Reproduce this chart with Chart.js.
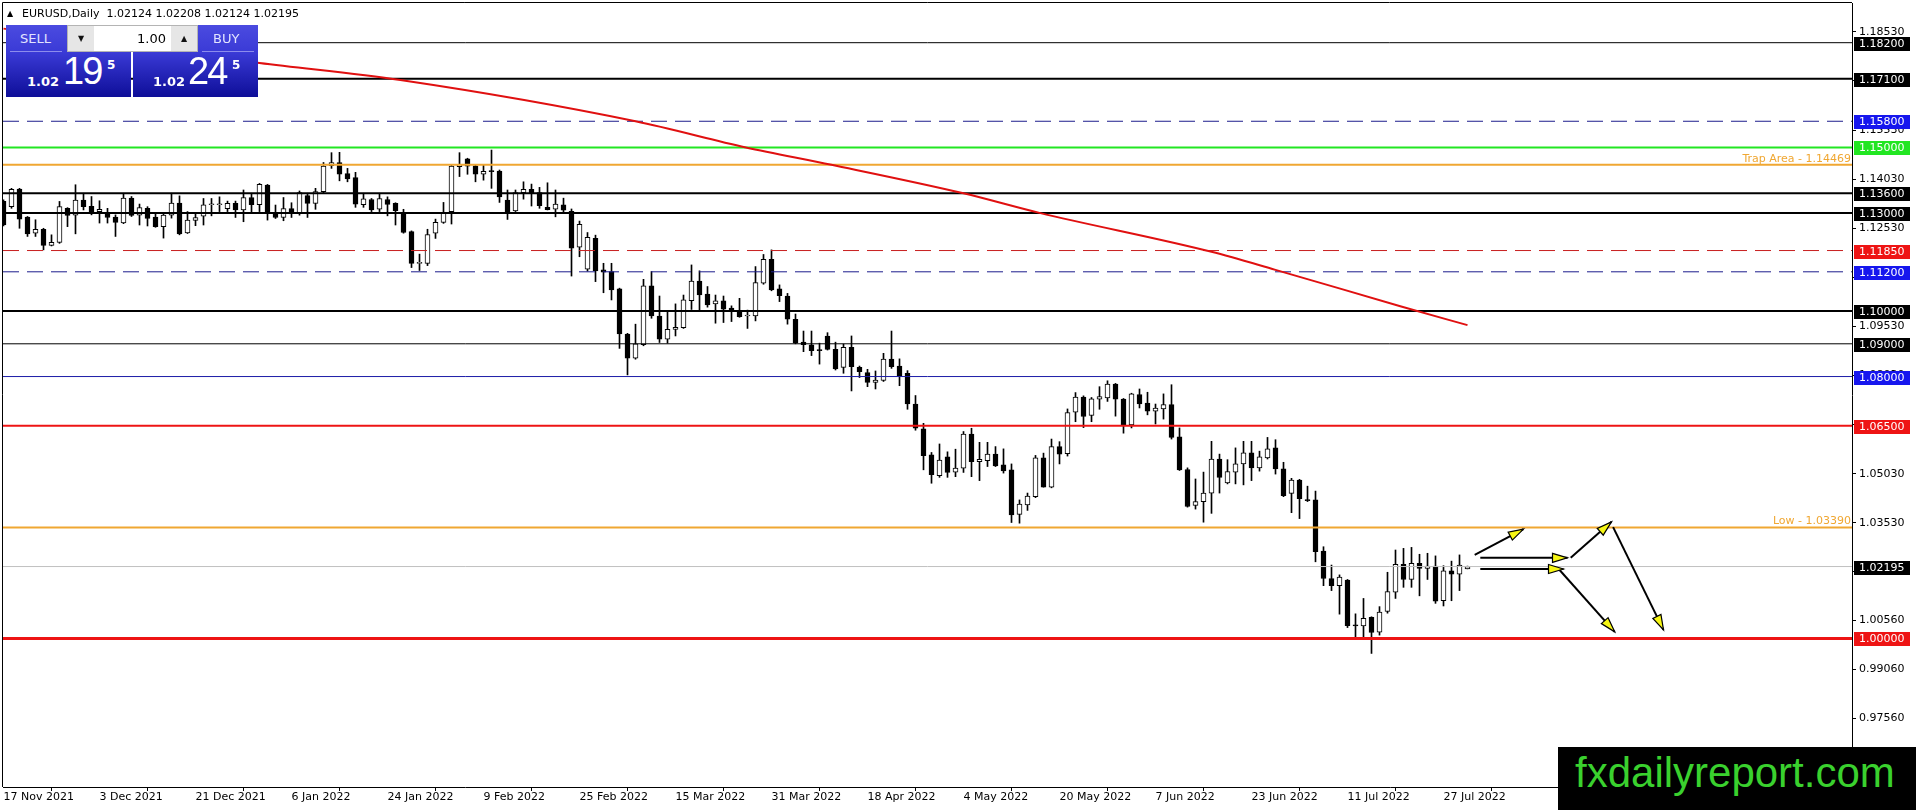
<!DOCTYPE html>
<html lang="en">
<head>
  <meta charset="UTF-8" />
  <title>EURUSD,Daily</title>
  <script src="https://cdn.jsdelivr.net/npm/chart.js"></script>
  <style>
    html, body { margin: 0; padding: 0; background: #fff; overflow: hidden; }
    #wrap { position: relative; width: 1916px; height: 810px; }
    #wrap canvas { position: absolute; left: 0; top: 0; }
    .pbox { position: absolute; top: 25px; height: 72px; width: 125px;
            background: linear-gradient(to bottom, #4b4be0 0%, #3a3ad6 38%, #0e0e98 100%); }
    .pbox .sep { position: absolute; top: 26px; height: 1px; width: 52px; background: #8c8cec; }
    .pbox .act { position: absolute; top: 6px; font: 13px "DejaVu Sans", sans-serif; color: #e2e4ff; }
    .pbox .small { position: absolute; top: 49px; font: bold 13px "DejaVu Sans", sans-serif; color: #fff; }
    .pbox .big { position: absolute; top: 25px; font: 38px "Liberation Sans", sans-serif; color: #fff; letter-spacing: -2px; line-height: 42px; }
    .pbox .sup { position: absolute; top: 33px; font: bold 12px "DejaVu Sans", sans-serif; color: #fff; }
    .lots { position: absolute; left: 67px; top: 25px; width: 129px; height: 25px; border: 1px solid #b4b4b4; background: #fff; }
    .lots .btn { position: absolute; top: 0; width: 26px; height: 25px; background: #e6e6e6; font: 8px "DejaVu Sans", sans-serif; text-align: center; line-height: 25px; color: #111; }
    .lots .val { position: absolute; left: 26px; width: 72px; top: 0; height: 25px; font: 13px "DejaVu Sans", sans-serif; text-align: right; line-height: 25px; color: #000; }
    .mark { position: absolute; left: 1558px; top: 747px; width: 358px; height: 63px; background: #000; }
    .mark span { position: absolute; left: 17px; top: 5px; font: 42px "Liberation Sans", sans-serif; line-height: 42px; color: #3ad12e; }
  </style>
</head>
<body>
<div id="wrap">
  <canvas id="eurusd" width="1916" height="810"></canvas>

  <!-- one click trading panel -->
  <div class="pbox" style="left:6px;">
    <div class="act" style="left:14px;">SELL</div>
    <div class="sep" style="left:4px;"></div>
    <div class="small" style="left:21px;">1.02</div>
    <div class="big" style="left:57px;">19</div>
    <div class="sup" style="left:101px;">5</div>
  </div>
  <div class="pbox" style="left:133px;">
    <div class="act" style="left:80px;">BUY</div>
    <div class="sep" style="left:69px;"></div>
    <div class="small" style="left:20px;">1.02</div>
    <div class="big" style="left:55px;">24</div>
    <div class="sup" style="left:99px;">5</div>
  </div>
  <div class="lots">
    <div class="btn" style="left:0;">▼</div>
    <div class="val">1.00</div>
    <div class="btn" style="left:103px;">▲</div>
  </div>

  <div class="mark"><span>fxdailyreport.com</span></div>
</div>

<script>
  const symbolTitle = 'EURUSD,Daily  1.02124 1.02208 1.02124 1.02195';

  // date labels, one every 12 daily bars starting with bar 0
  const dateLabels = ['17 Nov 2021', '3 Dec 2021', '21 Dec 2021', '6 Jan 2022', '24 Jan 2022', '9 Feb 2022',
    '25 Feb 2022', '15 Mar 2022', '31 Mar 2022', '18 Apr 2022', '4 May 2022', '20 May 2022',
    '7 Jun 2022', '23 Jun 2022', '11 Jul 2022', '27 Jul 2022'];
  const dateStep = 12;

  // daily OHLC, bar 0 = 17 Nov 2021
  const opens = [
    1.1335, 1.1319, 1.1373, 1.1287, 1.1238, 1.1250, 1.1201, 1.1210, 1.1314, 1.1293,
    1.1339, 1.1320, 1.1304, 1.1301, 1.1287, 1.1269, 1.1345, 1.1293, 1.1314, 1.1287,
    1.1258, 1.1293, 1.1330, 1.1239, 1.1277, 1.1290, 1.1325, 1.1325, 1.1313, 1.1329,
    1.1309, 1.1347, 1.1325, 1.1385, 1.1299, 1.1286, 1.1313, 1.1301, 1.1353, 1.1329,
    1.1365, 1.1444, 1.1454, 1.1420, 1.1408, 1.1325, 1.1341, 1.1311, 1.1341, 1.1329,
    1.1302, 1.1243, 1.1146, 1.1146, 1.1238, 1.1271, 1.1304, 1.1441, 1.1465, 1.1444,
    1.1418, 1.1427, 1.1428, 1.1339, 1.1306, 1.1362, 1.1372, 1.1362, 1.1317, 1.1311,
    1.1325, 1.1305, 1.1195, 1.1128, 1.1222, 1.1126, 1.1121, 1.1068, 1.0930, 1.0856,
    1.0897, 1.1077, 1.0985, 1.0914, 1.0944, 1.0949, 1.1032, 1.1092, 1.1052, 1.1022,
    1.1031, 1.1009, 1.1000, 1.0985, 1.0985, 1.1085, 1.1158, 1.1068, 1.1046, 1.0975,
    1.0905, 1.0897, 1.0880, 1.0924, 1.0883, 1.0828, 1.0889, 1.0828, 1.0812, 1.0782,
    1.0788, 1.0853, 1.0832, 1.0810, 1.0716, 1.0640, 1.0561, 1.0497, 1.0555, 1.0508,
    1.0520, 1.0624, 1.0540, 1.0543, 1.0563, 1.0530, 1.0515, 1.0379, 1.0408, 1.0433,
    1.0552, 1.0462, 1.0586, 1.0564, 1.0691, 1.0737, 1.0681, 1.0731, 1.0735, 1.0777,
    1.0731, 1.0652, 1.0745, 1.0719, 1.0694, 1.0701, 1.0714, 1.0616, 1.0516, 1.0406,
    1.0418, 1.0444, 1.0548, 1.0475, 1.0508, 1.0533, 1.0567, 1.0521, 1.0551, 1.0582,
    1.0518, 1.0443, 1.0484, 1.0423, 1.0423, 1.0267, 1.0183, 1.0161, 1.0178, 1.0039,
    1.0038, 1.0064, 1.0019, 1.0082, 1.0141, 1.0226, 1.0180, 1.0229, 1.0214, 1.0221,
    1.0115, 1.0206, 1.0196, 1.02124];
  const highs = [
    1.1340, 1.1375, 1.1375, 1.1289, 1.1279, 1.1253, 1.1233, 1.1335, 1.1316, 1.1386,
    1.1360, 1.1350, 1.1337, 1.1314, 1.1294, 1.1360, 1.1350, 1.1327, 1.1319, 1.1299,
    1.1299, 1.1360, 1.1352, 1.1304, 1.1301, 1.1344, 1.1344, 1.1349, 1.1336, 1.1336,
    1.1370, 1.1360, 1.1390, 1.1387, 1.1324, 1.1347, 1.1331, 1.1367, 1.1360, 1.1375,
    1.1454, 1.1484, 1.1485, 1.1436, 1.1424, 1.1360, 1.1344, 1.1360, 1.1349, 1.1331,
    1.1311, 1.1245, 1.1174, 1.1250, 1.1281, 1.1332, 1.1446, 1.1484, 1.1467, 1.1446,
    1.1446, 1.1492, 1.1431, 1.1370, 1.1370, 1.1395, 1.1388, 1.1378, 1.1392, 1.1370,
    1.1345, 1.1312, 1.1275, 1.1240, 1.1232, 1.1146, 1.1146, 1.1070, 1.0932, 1.0960,
    1.1097, 1.1121, 1.1046, 1.0998, 1.1022, 1.1049, 1.1141, 1.1123, 1.1075, 1.1049,
    1.1046, 1.1016, 1.1039, 1.1003, 1.1136, 1.1173, 1.1187, 1.1080, 1.1054, 1.0991,
    1.0939, 1.0939, 1.0902, 1.0934, 1.0905, 1.0899, 1.0924, 1.0832, 1.0822, 1.0817,
    1.0871, 1.0939, 1.0854, 1.0818, 1.0742, 1.0657, 1.0568, 1.0594, 1.0570, 1.0578,
    1.0632, 1.0642, 1.0599, 1.0599, 1.0586, 1.0579, 1.0533, 1.0423, 1.0444, 1.0559,
    1.0566, 1.0609, 1.0601, 1.0701, 1.0751, 1.0741, 1.0736, 1.0769, 1.0787, 1.0779,
    1.0733, 1.0749, 1.0762, 1.0752, 1.0716, 1.0747, 1.0775, 1.0643, 1.0521, 1.0487,
    1.0508, 1.0602, 1.0563, 1.0546, 1.0582, 1.0602, 1.0602, 1.0572, 1.0614, 1.0607,
    1.0538, 1.0489, 1.0486, 1.0465, 1.0450, 1.0280, 1.0224, 1.0194, 1.0180, 1.0075,
    1.0122, 1.0066, 1.0097, 1.0202, 1.0270, 1.0275, 1.0278, 1.0257, 1.0260, 1.0252,
    1.0222, 1.0236, 1.0255, 1.02208];
  const lows = [
    1.1260, 1.1314, 1.1253, 1.1228, 1.1228, 1.1187, 1.1199, 1.1207, 1.1258, 1.1236,
    1.1309, 1.1294, 1.1269, 1.1269, 1.1228, 1.1267, 1.1289, 1.1263, 1.1260, 1.1256,
    1.1223, 1.1284, 1.1233, 1.1237, 1.1261, 1.1263, 1.1291, 1.1304, 1.1304, 1.1286,
    1.1273, 1.1299, 1.1304, 1.1278, 1.1283, 1.1276, 1.1286, 1.1293, 1.1286, 1.1311,
    1.1360, 1.1436, 1.1398, 1.1395, 1.1317, 1.1317, 1.1304, 1.1304, 1.1291, 1.1263,
    1.1238, 1.1133, 1.1124, 1.1139, 1.1222, 1.1268, 1.1266, 1.1411, 1.1418, 1.1395,
    1.1400, 1.1375, 1.1332, 1.1280, 1.1304, 1.1342, 1.1321, 1.1314, 1.1309, 1.1288,
    1.1300, 1.1107, 1.1166, 1.1122, 1.1090, 1.1056, 1.1034, 1.0886, 1.0805, 1.0853,
    1.0894, 1.0978, 1.0904, 1.0902, 1.0924, 1.0947, 1.1005, 1.1003, 1.1012, 1.0963,
    1.0965, 1.0968, 1.0981, 1.0947, 1.0970, 1.1082, 1.1062, 1.1029, 1.0960, 1.0900,
    1.0876, 1.0864, 1.0838, 1.0881, 1.0820, 1.0810, 1.0756, 1.0797, 1.0769, 1.0762,
    1.0785, 1.0825, 1.0772, 1.0700, 1.0636, 1.0515, 1.0474, 1.0492, 1.0492, 1.0494,
    1.0507, 1.0494, 1.0482, 1.0525, 1.0525, 1.0505, 1.0354, 1.0352, 1.0391, 1.0430,
    1.0462, 1.0460, 1.0533, 1.0557, 1.0662, 1.0644, 1.0662, 1.0700, 1.0724, 1.0679,
    1.0627, 1.0643, 1.0704, 1.0683, 1.0655, 1.0670, 1.0609, 1.0513, 1.0401, 1.0395,
    1.0355, 1.0382, 1.0444, 1.0472, 1.0472, 1.0469, 1.0482, 1.0511, 1.0548, 1.0502,
    1.0433, 1.0384, 1.0366, 1.0418, 1.0234, 1.0161, 1.0146, 1.0074, 1.0033, 1.0000,
    1.0005, 0.9954, 1.0010, 1.0077, 1.0122, 1.0156, 1.0156, 1.0130, 1.0180, 1.0107,
    1.0099, 1.0115, 1.0146, 1.02124];
  const closes = [
    1.1263, 1.1372, 1.1281, 1.1236, 1.1250, 1.1201, 1.1210, 1.1319, 1.1292, 1.1339,
    1.1319, 1.1304, 1.1311, 1.1286, 1.1271, 1.1345, 1.1292, 1.1316, 1.1283, 1.1258,
    1.1293, 1.1330, 1.1236, 1.1278, 1.1286, 1.1325, 1.1326, 1.1327, 1.1329, 1.1309,
    1.1347, 1.1325, 1.1387, 1.1299, 1.1286, 1.1313, 1.1299, 1.1362, 1.1329, 1.1365,
    1.1443, 1.1454, 1.1418, 1.1404, 1.1327, 1.1343, 1.1309, 1.1344, 1.1326, 1.1307,
    1.1240, 1.1146, 1.1148, 1.1234, 1.1271, 1.1302, 1.1443, 1.1448, 1.1443, 1.1418,
    1.1427, 1.1426, 1.1349, 1.1304, 1.1362, 1.1372, 1.1362, 1.1322, 1.1310, 1.1327,
    1.1308, 1.1192, 1.1265, 1.1225, 1.1123, 1.1119, 1.1065, 1.0930, 1.0856, 1.0900,
    1.1077, 1.0985, 1.0914, 1.0944, 1.0950, 1.1034, 1.1092, 1.1049, 1.1019, 1.1031,
    1.1006, 1.1001, 1.0983, 1.0986, 1.1087, 1.1158, 1.1065, 1.1047, 1.0975, 1.0902,
    1.0897, 1.0879, 1.0879, 1.0883, 1.0823, 1.0889, 1.0830, 1.0815, 1.0782, 1.0789,
    1.0853, 1.0830, 1.0803, 1.0716, 1.0642, 1.0558, 1.0500, 1.0545, 1.0507, 1.0520,
    1.0624, 1.0540, 1.0547, 1.0563, 1.0527, 1.0512, 1.0377, 1.0410, 1.0435, 1.0552,
    1.0462, 1.0586, 1.0563, 1.0690, 1.0737, 1.0678, 1.0732, 1.0739, 1.0777, 1.0731,
    1.0652, 1.0747, 1.0716, 1.0694, 1.0704, 1.0714, 1.0614, 1.0515, 1.0403, 1.0418,
    1.0444, 1.0548, 1.0492, 1.0510, 1.0533, 1.0567, 1.0521, 1.0555, 1.0579, 1.0518,
    1.0436, 1.0484, 1.0427, 1.0421, 1.0265, 1.0183, 1.0161, 1.0187, 1.0039, 1.0038,
    1.0061, 1.0018, 1.0080, 1.0143, 1.0226, 1.0180, 1.0229, 1.0214, 1.0221, 1.0114,
    1.0206, 1.0196, 1.0224, 1.02195];

  // moving average (bar index -> price)
  const maBars = [0, 32, 49.6, 79, 92.8, 103.5, 120, 129.5, 151, 159, 174.6, 183];
  const maValues = [1.1863, 1.1758, 1.1706, 1.1580, 1.1500, 1.1447, 1.1360, 1.1300, 1.1181, 1.1126, 1.1015, 1.0957];

  // price scale labels
  const priceTicks = [1.1853, 1.1703, 1.1553, 1.1403, 1.1253, 1.1103, 1.0953, 1.0803, 1.0653,
    1.0503, 1.0353, 1.0203, 1.0056, 0.9906, 0.9756];

  // horizontal levels
  const levels = [1.182, 1.171, 1.158, 1.15, 1.14469, 1.136, 1.13, 1.1185, 1.112,
    1.10, 1.09, 1.08, 1.065, 1.0339, 1.02195, 1.0];
  const levelNotes = [null, null, null, null, 'Trap Area - 1.14469', null, null, null, null,
    null, null, null, null, 'Low - 1.03390', null, null];

  // scenario arrows (bar index, price)
  const arrowFrom = [[183.9, 1.0255], [184.6, 1.0246], [195.9, 1.0246], [201.2, 1.0340], [184.6, 1.0212], [194.4, 1.0212]];
  const arrowTo   = [[190.0, 1.0334], [195.5, 1.0246], [201.0, 1.0356], [207.5, 1.0026], [195.0, 1.0212], [201.4, 1.0020]];

  // ---- styles for the levels ----
  const BLUE = '#1616ee', RED = '#ee1414', BLK = '#000', ORG = '#f0a732';
  const levelStyle = [
    { c: BLK, w: 1, box: BLK },
    { c: BLK, w: 2, box: BLK },
    { c: '#1c1c8c', w: 1, dash: true, box: BLUE },
    { c: '#22e622', w: 2, box: '#22e622' },
    { c: ORG, w: 2 },
    { c: BLK, w: 2, box: BLK },
    { c: BLK, w: 2, box: BLK },
    { c: '#c81e1e', w: 1, dash: true, box: RED },
    { c: '#1c1c8c', w: 1, dash: true, box: BLUE },
    { c: BLK, w: 2, box: BLK },
    { c: BLK, w: 1, box: BLK },
    { c: '#1c1ca8', w: 1, box: BLUE },
    { c: RED, w: 2, box: RED },
    { c: ORG, w: 2 },
    { c: '#c0c0c0', w: 1, box: BLK },
    { c: RED, w: 3, box: RED }
  ];

  const barPx = 8;
  const xMin = -0.0625;
  const xMax = xMin + 1849 / barPx;

  const datasets = [];

  // arrows
  arrowFrom.forEach((a, i) => {
    datasets.push({
      type: 'line', order: 0,
      data: [{ x: a[0], y: a[1] }, { x: arrowTo[i][0], y: arrowTo[i][1] }],
      borderColor: '#000', borderWidth: 2, pointRadius: 0
    });
  });

  // moving average
  datasets.push({
    type: 'line', order: 1,
    data: maBars.map((b, i) => ({ x: b, y: maValues[i] })),
    borderColor: '#e01010', borderWidth: 2, pointRadius: 0,
    cubicInterpolationMode: 'monotone'
  });

  // level lines
  levels.forEach((v, i) => {
    const s = levelStyle[i];
    datasets.push({
      type: 'line', order: 2,
      data: [{ x: xMin, y: v }, { x: xMax, y: v }],
      borderColor: s.c, borderWidth: s.w, borderDash: s.dash ? [16, 8] : [],
      pointRadius: 0
    });
  });

  // candle bodies
  datasets.push({
    type: 'bar', order: 3,
    data: opens.map((o, i) => ({ x: i, y: [o, closes[i]] })),
    backgroundColor: opens.map((o, i) => closes[i] > o ? '#fff' : '#000'),
    borderColor: '#000', borderWidth: 1, borderSkipped: false,
    barThickness: 5, minBarLength: 1, grouped: false
  });

  // candle wicks
  datasets.push({
    type: 'bar', order: 4,
    data: highs.map((h, i) => ({ x: i, y: [lows[i], h] })),
    backgroundColor: '#000', borderWidth: 0,
    barThickness: 1, grouped: false
  });

  const frame = {
    id: 'frame',
    beforeDatasetsDraw(chart) {
      const { ctx, chartArea: a } = chart;
      ctx.save();
      ctx.strokeStyle = '#000';
      ctx.lineWidth = 1;
      ctx.beginPath();
      ctx.moveTo(a.left - 0.5, a.bottom);
      ctx.lineTo(a.left - 0.5, a.top - 0.5);
      ctx.lineTo(a.right, a.top - 0.5);
      ctx.stroke();
      ctx.restore();
    }
  };

  const arrowHeads = {
    id: 'arrowHeads',
    afterDatasetsDraw(chart) {
      const { ctx, scales: { x, y } } = chart;
      ctx.save();
      arrowFrom.forEach((a, i) => {
        const x0 = x.getPixelForValue(a[0]), y0 = y.getPixelForValue(a[1]);
        const x1 = x.getPixelForValue(arrowTo[i][0]), y1 = y.getPixelForValue(arrowTo[i][1]);
        const ang = Math.atan2(y1 - y0, x1 - x0);
        const len = 15, half = 4.5;
        const bx = x1 - len * Math.cos(ang), by = y1 - len * Math.sin(ang);
        ctx.beginPath();
        ctx.moveTo(x1, y1);
        ctx.lineTo(bx + half * Math.sin(ang), by - half * Math.cos(ang));
        ctx.lineTo(bx - half * Math.sin(ang), by + half * Math.cos(ang));
        ctx.closePath();
        ctx.fillStyle = '#f6f614';
        ctx.fill();
        ctx.strokeStyle = '#000';
        ctx.lineWidth = 1.2;
        ctx.stroke();
      });
      ctx.restore();
    }
  };

  const levelTags = {
    id: 'levelTags',
    afterDraw(chart) {
      const { ctx, chartArea: a, scales: { y } } = chart;
      ctx.save();
      ctx.font = '11px "DejaVu Sans"';
      levels.forEach((v, i) => {
        const py = y.getPixelForValue(v);
        if (levelNotes[i]) {
          ctx.fillStyle = ORG;
          ctx.textAlign = 'right';
          ctx.textBaseline = 'alphabetic';
          ctx.fillText(levelNotes[i], a.right - 1, py - 3);
        }
        const s = levelStyle[i];
        if (s.box) {
          ctx.fillStyle = s.box;
          ctx.fillRect(a.right + 2, Math.round(py) - 6, 56, 14);
          ctx.fillStyle = '#fff';
          ctx.textAlign = 'left';
          ctx.textBaseline = 'middle';
          ctx.fillText(v.toFixed(5), a.right + 7, Math.round(py) + 1);
        }
      });
      // chart title line, top left
      ctx.fillStyle = '#000';
      ctx.textBaseline = 'alphabetic';
      ctx.textAlign = 'left';
      ctx.font = '8px "DejaVu Sans"';
      ctx.fillText('▲', 7, 16);
      ctx.font = '11px "DejaVu Sans"';
      ctx.fillText(symbolTitle, 22, 17);
      ctx.restore();
    }
  };

  Chart.defaults.font.family = '"DejaVu Sans", sans-serif';
  Chart.defaults.font.size = 11;
  Chart.defaults.color = '#000';

  new Chart(document.getElementById('eurusd'), {
    type: 'bar',
    data: { datasets },
    options: {
      responsive: false,
      animation: false,
      devicePixelRatio: 1,
      events: [],
      layout: { padding: { left: 3, top: 3, right: 0, bottom: 0 } },
      plugins: { legend: { display: false }, tooltip: { enabled: false } },
      scales: {
        x: {
          type: 'linear', min: xMin, max: xMax, offset: false,
          grid: { display: true, drawOnChartArea: false, drawTicks: true, tickLength: 4, color: '#000' },
          border: { display: true, color: '#000', width: 1 },
          afterBuildTicks: s => { s.ticks = dateLabels.map((_, i) => ({ value: i * dateStep })); },
          afterFit: s => { s.height = 23; s.paddingLeft = 0; s.paddingRight = 0; },
          ticks: {
            autoSkip: false, maxRotation: 0, minRotation: 0, align: 'start', padding: 0,
            callback: v => dateLabels[Math.round(v / dateStep)]
          }
        },
        y: {
          type: 'linear', position: 'right', min: 0.95459, max: 1.19413,
          grid: { display: true, drawOnChartArea: false, drawTicks: true, tickLength: 4, color: '#000' },
          border: { display: true, color: '#000', width: 1 },
          afterBuildTicks: s => { s.ticks = priceTicks.map(v => ({ value: v })); },
          afterFit: s => { s.width = 64; s.paddingTop = 0; s.paddingBottom = 0; },
          ticks: { padding: 3, callback: v => v.toFixed(5) }
        }
      }
    },
    plugins: [frame, arrowHeads, levelTags]
  });
</script>
</body>
</html>
